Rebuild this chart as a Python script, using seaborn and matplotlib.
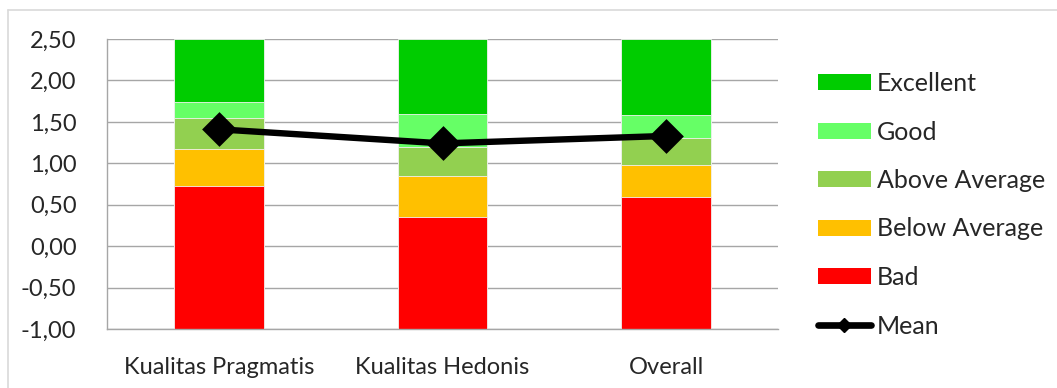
import matplotlib
matplotlib.use("Agg")
import matplotlib.pyplot as plt
from matplotlib.patches import Patch
from matplotlib.lines import Line2D
from matplotlib.ticker import MultipleLocator, FixedLocator, FuncFormatter
import seaborn as sns
import pandas as pd

# Benchmark categories (upper bound of each band) and measured means
categories = ["Kualitas Pragmatis", "Kualitas Hedonis", "Overall"]
bad = [0.72, 0.35, 0.59]
below_average = [1.17, 0.85, 0.98]
above_average = [1.55, 1.20, 1.31]
good = [1.74, 1.60, 1.58]
excellent = [2.50, 2.50, 2.50]
mean = [1.41, 1.24, 1.33]

band_names = ["Excellent", "Good", "Above Average", "Below Average", "Bad"]
band_tops = [excellent, good, above_average, below_average, bad]
band_colors = ["#00CC00", "#66FF66", "#92D050", "#FFC000", "#FF0000"]
base = -1.0

sns.set_style("white")
plt.rcParams["font.family"] = ["Lato", "DejaVu Sans"]

fig = plt.figure(figsize=(10.57, 3.88), dpi=100)
ax = fig.add_axes([107 / 1057, 1 - 329 / 388, (778 - 107) / 1057, (329 - 39) / 388])

# bands drawn from the top value down so lower bands cover the taller ones
for name, tops, col in zip(band_names, band_tops, band_colors):
    df = pd.DataFrame({"cat": categories, "h": [t - base for t in tops]})
    sns.barplot(data=df, x="cat", y="h", bottom=base, color=col, width=0.4,
                errorbar=None, saturation=1, edgecolor="#F2F2F2", linewidth=0.6,
                ax=ax, zorder=2)

dm = pd.DataFrame({"cat": categories, "mean": mean})
sns.pointplot(data=dm, x="cat", y="mean", color="black", markers="D",
              linestyles="-", errorbar=None, ax=ax, zorder=5,
              markersize=14, linewidth=4.6)

ax.set_xlim(-0.5, 2.5)
ax.set_ylim(-1.0, 2.5)
ax.set_xlabel("")
ax.set_ylabel("")

grid_col = "#A6A6A6"
ax.yaxis.set_major_locator(MultipleLocator(0.5))
ax.yaxis.set_major_formatter(FuncFormatter(lambda v, p: f"{v:.2f}".replace(".", ",")))
ax.grid(axis="y", color=grid_col, linewidth=1.0, zorder=0)
ax.set_axisbelow(True)

ax.xaxis.set_minor_locator(FixedLocator([-0.5, 0.5, 1.5, 2.5]))
ax.tick_params(axis="x", which="major", length=0, pad=20, labelsize=17)
ax.tick_params(axis="x", which="minor", length=8, width=1, color=grid_col, direction="out")
ax.tick_params(axis="y", which="major", length=8, width=1, color=grid_col,
               direction="out", pad=14, labelsize=17)

for side in ["top", "right"]:
    ax.spines[side].set_visible(False)
for side in ["left", "bottom"]:
    ax.spines[side].set_color(grid_col)
    ax.spines[side].set_linewidth(1.0)

handles = [Patch(facecolor=c, edgecolor="none") for c in band_colors]
handles.append(Line2D([], [], color="black", linewidth=4.8, marker="D", markersize=7,
                      solid_capstyle="round"))
labels = band_names + ["Mean"]
fig.legend(handles, labels, loc="upper left", bbox_to_anchor=(818 / 1057, 1 - 72 / 388),
           frameon=False, fontsize=18, handlelength=2.1, handleheight=0.6,
           handletextpad=0.25, labelspacing=1.02, borderpad=0, borderaxespad=0)

# chart area border
border = "#D9D9D9"
fig.add_artist(Line2D([8 / 1057, 1.0], [1 - 10 / 388] * 2, color=border, linewidth=1.2,
                      transform=fig.transFigure))
fig.add_artist(Line2D([8 / 1057] * 2, [0.0, 1 - 10 / 388], color=border, linewidth=1.2,
                      transform=fig.transFigure))

fig.savefig("out.png", dpi=100)
